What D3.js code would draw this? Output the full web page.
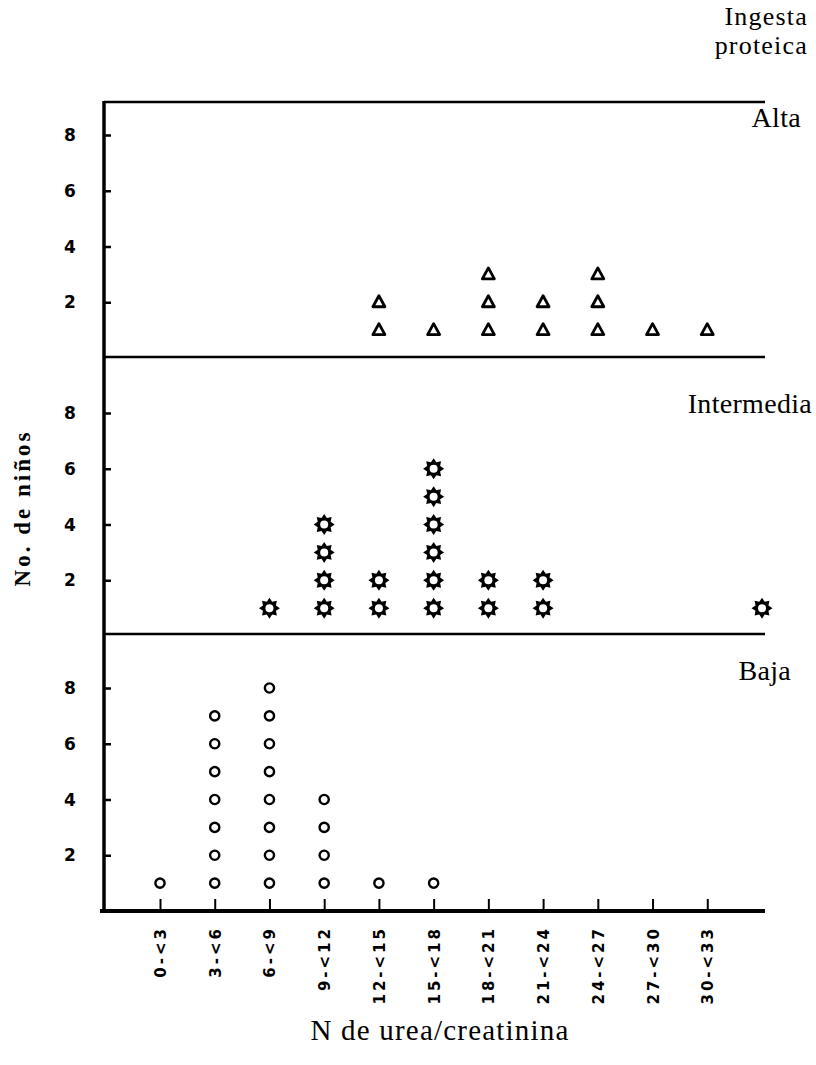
<!DOCTYPE html>
<html><head><meta charset="utf-8">
<script src="https://cdn.jsdelivr.net/npm/d3@7"></script>
<style>body{margin:0;background:#fff}</style>
</head><body>
<svg id="c" width="816" height="1065"></svg>
<script>
const categories = ["0-<3","3-<6","6-<9","9-<12","12-<15","15-<18","18-<21","21-<24","24-<27","27-<30","30-<33",">=33"];
const tickLabels = ["0-<3","3-<6","6-<9","9-<12","12-<15","15-<18","18-<21","21-<24","24-<27","27-<30","30-<33"];
const yTicks = [2,4,6,8];
const panelNames = ["Alta","Intermedia","Baja"];
const alta =       [0,0,0,0,2,1,3,2,3,1,1,0];
const intermedia = [0,0,1,4,2,6,2,2,0,0,0,1];
const baja =       [1,7,8,4,1,1,0,0,0,0,0,0];

const svg = d3.select("#c");
const x = d3.scalePoint().domain(categories).range([160, 762]);
const serif = "'Liberation Serif', 'DejaVu Serif', serif";
const sans = "'DejaVu Sans', 'Liberation Sans', sans-serif";

const axisX = 104, lineEnd = 765;
const panels = [
  {name: panelNames[0], data: alta, top: 102, base: 358, shape: "tri", labelY: 127, labelX: 801},
  {name: panelNames[1], data: intermedia, top: 357, base: 636, shape: "star", labelY: 413, labelX: 812},
  {name: panelNames[2], data: baja, top: 634, base: 911, shape: "circ", labelY: 680, labelX: 791}
];

// titles
svg.append("text").attr("x", 808).attr("y", 25).attr("text-anchor","end")
  .attr("font-family", serif).attr("font-size", 26).attr("letter-spacing", 1.2).text("Ingesta");
svg.append("text").attr("x", 808).attr("y", 54).attr("text-anchor","end")
  .attr("font-family", serif).attr("font-size", 26).attr("letter-spacing", 1.2).text("proteica");

// left axis line
svg.append("line").attr("x1", axisX).attr("x2", axisX).attr("y1", 101).attr("y2", 913)
  .attr("stroke","#000").attr("stroke-width",3.5);

function starPath(r1, r2, n) {
  const pts = [];
  for (let i = 0; i < 2*n; i++) {
    const r = i % 2 === 0 ? r1 : r2;
    const a = Math.PI * i / n - Math.PI/2;
    pts.push([r*Math.cos(a), r*Math.sin(a)]);
  }
  return "M" + pts.map(p => p.join(",")).join("L") + "Z";
}

panels.forEach((p, pi) => {
  const y = d3.scaleLinear().domain([0, 8]).range([p.base, p.base - 223]);
  svg.append("line").attr("x1", axisX).attr("x2", lineEnd).attr("y1", p.top).attr("y2", p.top)
    .attr("stroke","#000").attr("stroke-width", 2.5);
  const ax = d3.axisRight(y).tickValues(yTicks).tickSize(7).tickFormat("");
  const g = svg.append("g").attr("transform", `translate(${axisX},0)`).call(ax);
  g.select(".domain").remove();
  g.selectAll("line").attr("stroke-width", 2.5);
  svg.selectAll(null).data(yTicks).enter().append("text")
    .attr("x", 70).attr("y", d => y(d) + 6).attr("text-anchor","middle")
    .attr("font-family", sans).attr("font-weight","bold").attr("font-size", 17).text(d => d);
  svg.append("text").attr("x", p.labelX).attr("y", p.labelY).attr("text-anchor","end")
    .attr("font-family", serif).attr("font-size", 28).attr("letter-spacing", 0.3).text(p.name);
  const pts = [];
  p.data.forEach((v, i) => { for (let k = 1; k <= v; k++) pts.push({c: categories[i], k}); });
  const sel = svg.append("g").selectAll("g").data(pts).enter().append("g")
    .attr("transform", d => `translate(${x(d.c)},${y(d.k)})`);
  if (p.shape === "tri") {
    sel.append("path").attr("d", "M0,-6.5L6,4.5L-6,4.5Z").attr("fill","#fff")
      .attr("stroke","#000").attr("stroke-width", 2.8).attr("stroke-linejoin","round");
  } else if (p.shape === "circ") {
    sel.append("circle").attr("r", 4.6).attr("fill","#fff").attr("stroke","#000").attr("stroke-width", 2.4);
  } else {
    sel.append("path").attr("d", starPath(10.5, 7, 8)).attr("fill","#000");
    sel.append("circle").attr("r", 4).attr("fill","#fff");
  }
});

// bottom axis
svg.append("line").attr("x1", 100).attr("x2", lineEnd).attr("y1", 911).attr("y2", 911)
  .attr("stroke","#000").attr("stroke-width", 4);
const xa = d3.axisTop(x).tickValues(tickLabels).tickSize(12).tickFormat("");
const gx = svg.append("g").attr("transform","translate(0,911)").call(xa);
gx.select(".domain").remove();
gx.selectAll("line").attr("stroke-width", 2);
svg.selectAll(null).data(tickLabels).enter().append("text")
  .attr("transform", d => `translate(${x(d)+6},926) rotate(-90)`)
  .attr("text-anchor","end").attr("font-family", sans).attr("font-weight","bold")
  .attr("font-size", 15).attr("letter-spacing", 3).text(d => d);

// axis titles
svg.append("text").attr("transform","translate(30,508) rotate(-90)").attr("text-anchor","middle")
  .attr("font-family", serif).attr("font-weight","bold").attr("font-size", 23).attr("letter-spacing", 3)
  .text("No. de niños");
svg.append("text").attr("x", 440).attr("y", 1040).attr("text-anchor","middle")
  .attr("font-family", serif).attr("font-size", 29).attr("letter-spacing", 1.2).text("N de urea/creatinina");
</script>
</body></html>
